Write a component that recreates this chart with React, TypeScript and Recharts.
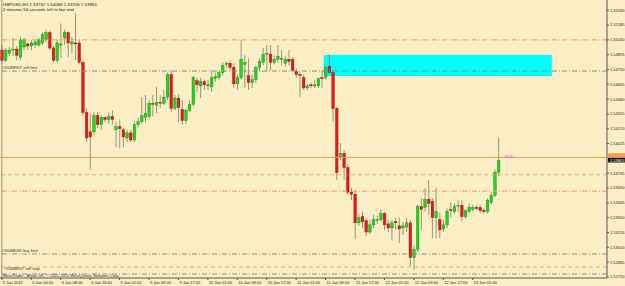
import React from 'react';
import { ComposedChart, Bar, XAxis, YAxis, ReferenceLine, ReferenceArea } from 'recharts';

// GBPUSD H1 candles, oldest first
const OPEN = [
  1.5494, 1.5484, 1.5491, 1.5494, 1.5495, 1.5487, 1.5497, 1.55, 1.5498, 1.5499,
  1.5499, 1.5501, 1.5504, 1.5511, 1.5496, 1.5484, 1.5499, 1.5506, 1.5511, 1.55,
  1.5501, 1.5501, 1.5482, 1.5433, 1.5414, 1.5414, 1.543, 1.5421, 1.5428, 1.5426,
  1.5429, 1.5416, 1.5419, 1.5416, 1.5408, 1.5413, 1.5406, 1.5421, 1.5424, 1.5428,
  1.5429, 1.5442, 1.544, 1.5443, 1.5442, 1.5448, 1.547, 1.5437, 1.5447, 1.5436,
  1.5425, 1.5435, 1.5441, 1.5464, 1.5459, 1.5463, 1.5459, 1.5458, 1.5466, 1.5467,
  1.5472, 1.548, 1.5481, 1.5477, 1.5461, 1.5467, 1.548, 1.5469, 1.5462, 1.5465,
  1.5477, 1.5482, 1.549, 1.549, 1.5482, 1.5485, 1.5485, 1.5481, 1.5485, 1.5485,
  1.5473, 1.547, 1.5467, 1.5457, 1.546, 1.5459, 1.5459, 1.5467, 1.5467, 1.5478,
  1.5472, 1.5437, 1.5389, 1.5393, 1.5379, 1.5355, 1.5353, 1.5325, 1.5331, 1.5327,
  1.5316, 1.5323, 1.5327, 1.5328, 1.5334, 1.5324, 1.532, 1.5326, 1.5322, 1.532,
  1.5321, 1.5325, 1.5291, 1.5299, 1.5341, 1.534, 1.5348, 1.5346, 1.533, 1.5328,
  1.5319, 1.5323, 1.5338, 1.5336, 1.5341, 1.5342, 1.5331, 1.5336, 1.5338, 1.534,
  1.534, 1.5337, 1.5336, 1.5345, 1.5352, 1.53742,
];
const HIGH = [
  1.5499, 1.5496, 1.5497, 1.5506, 1.5498, 1.5507, 1.5506, 1.5502, 1.5504, 1.5504,
  1.5506, 1.5511, 1.5514, 1.5513, 1.5498, 1.5504, 1.552, 1.5514, 1.5512, 1.5507,
  1.553, 1.5504, 1.5484, 1.5437, 1.5432, 1.5433, 1.5433, 1.543, 1.5429, 1.5433,
  1.5435, 1.5424, 1.5426, 1.5418, 1.5416, 1.5416, 1.5424, 1.5428, 1.5448, 1.545,
  1.5445, 1.545, 1.5458, 1.545, 1.5455, 1.5472, 1.5474, 1.545, 1.5451, 1.5445,
  1.5437, 1.5445, 1.5469, 1.5467, 1.5467, 1.5465, 1.5465, 1.5474, 1.5472, 1.5474,
  1.5482, 1.5483, 1.5484, 1.5481, 1.547, 1.5504, 1.5489, 1.5486, 1.547, 1.5479,
  1.5486, 1.5496, 1.5499, 1.5499, 1.5489, 1.5499, 1.5494, 1.5488, 1.5494, 1.5487,
  1.5476, 1.5472, 1.547, 1.5461, 1.5462, 1.5465, 1.5467, 1.5474, 1.5479, 1.549,
  1.5474, 1.5439, 1.5403, 1.5396, 1.5382, 1.5359, 1.5357, 1.5334, 1.5336, 1.533,
  1.5328, 1.5333, 1.5332, 1.5338, 1.5336, 1.5328, 1.5328, 1.533, 1.533, 1.5326,
  1.533, 1.5328, 1.5303, 1.5343, 1.5349, 1.5359, 1.5367, 1.5349, 1.5359, 1.5335,
  1.5328, 1.5339, 1.5345, 1.5344, 1.5347, 1.5347, 1.5338, 1.5344, 1.5343, 1.5342,
  1.5342, 1.5339, 1.5349, 1.5355, 1.5377, 1.54083,
];
const LOW = [
  1.5481, 1.5482, 1.5488, 1.5488, 1.5484, 1.5484, 1.5494, 1.5494, 1.5494, 1.5496,
  1.5497, 1.5499, 1.5502, 1.5494, 1.5482, 1.5482, 1.5486, 1.5499, 1.5487, 1.5491,
  1.5484, 1.548, 1.543, 1.5404, 1.5377, 1.5411, 1.5418, 1.5416, 1.5424, 1.5422,
  1.5421, 1.5399, 1.5398, 1.5399, 1.5404, 1.5404, 1.5404, 1.5418, 1.5422, 1.5423,
  1.5426, 1.5429, 1.5432, 1.5437, 1.544, 1.5445, 1.5433, 1.5435, 1.5423, 1.5421,
  1.5422, 1.5433, 1.5439, 1.5453, 1.5447, 1.5455, 1.5455, 1.5453, 1.5463, 1.5465,
  1.5469, 1.5477, 1.5474, 1.5457, 1.5455, 1.5465, 1.5457, 1.5455, 1.5457, 1.5462,
  1.5474, 1.5479, 1.5473, 1.5474, 1.548, 1.5482, 1.5479, 1.5478, 1.5479, 1.5473,
  1.5467, 1.5448, 1.5455, 1.5455, 1.5457, 1.5457, 1.5457, 1.5457, 1.5465, 1.547,
  1.5424, 1.5367, 1.5386, 1.5367, 1.5352, 1.5347, 1.5309, 1.5322, 1.532, 1.5312,
  1.5314, 1.532, 1.5324, 1.5326, 1.5318, 1.5316, 1.5308, 1.5318, 1.5305, 1.5313,
  1.5316, 1.5282, 1.5279, 1.5296, 1.5318, 1.5336, 1.5333, 1.531, 1.531, 1.531,
  1.5316, 1.532, 1.533, 1.5334, 1.5336, 1.5326, 1.5329, 1.5334, 1.5336, 1.5337,
  1.5335, 1.5334, 1.5334, 1.5343, 1.535, 1.53706,
];
const CLOSE = [
  1.5484, 1.5494, 1.5494, 1.5495, 1.5489, 1.5504, 1.5504, 1.5498, 1.5501, 1.5502,
  1.5504, 1.5509, 1.5511, 1.5496, 1.5484, 1.5501, 1.55, 1.5511, 1.5501, 1.5502,
  1.55, 1.5482, 1.5433, 1.5408, 1.5409, 1.543, 1.5421, 1.5428, 1.5426, 1.5429,
  1.5426, 1.5419, 1.5417, 1.5409, 1.5413, 1.5406, 1.5421, 1.5424, 1.543, 1.5432,
  1.5442, 1.5441, 1.5443, 1.5442, 1.5448, 1.547, 1.5437, 1.5447, 1.5438, 1.5425,
  1.5435, 1.5441, 1.5467, 1.546, 1.5463, 1.546, 1.546, 1.5467, 1.5468, 1.5472,
  1.5479, 1.5481, 1.5477, 1.5461, 1.5467, 1.5485, 1.5482, 1.5462, 1.5465, 1.5477,
  1.5483, 1.549, 1.5491, 1.5482, 1.5485, 1.5488, 1.5486, 1.5485, 1.5483, 1.5474,
  1.547, 1.5469, 1.5457, 1.5459, 1.5459, 1.546, 1.5466, 1.5466, 1.5477, 1.5472,
  1.5437, 1.5374, 1.5393, 1.5379, 1.5355, 1.5353, 1.5325, 1.533, 1.5326, 1.5316,
  1.5323, 1.5328, 1.5328, 1.5334, 1.5323, 1.532, 1.5325, 1.5325, 1.5319, 1.5322,
  1.5325, 1.5291, 1.5299, 1.5341, 1.5338, 1.5348, 1.5344, 1.533, 1.5336, 1.5318,
  1.5323, 1.5336, 1.5337, 1.5341, 1.5342, 1.5331, 1.5337, 1.534, 1.534, 1.5339,
  1.5337, 1.5336, 1.5347, 1.5352, 1.5374, 1.53863,
];

// chart shift: empty slots to the right of the last bar
const SLOT_COUNT = 165;

const TIME_TICKS = [0, 8, 16, 24, 32, 40, 48, 56, 64, 72, 80, 88, 96, 104, 112, 120, 128];
const TIME_LABELS = [
  '5 Jan 2012', '6 Jan 00:00', '6 Jan 08:00', '6 Jan 16:00', '9 Jan 01:00', '9 Jan 09:00',
  '9 Jan 17:00', '10 Jan 01:00', '10 Jan 09:00', '10 Jan 17:00', '11 Jan 01:00', '11 Jan 09:00',
  '11 Jan 17:00', '12 Jan 01:00', '12 Jan 09:00', '12 Jan 17:00', '13 Jan 01:00',
];
// 1.53880 sits under the bid box, so it is left out
const PRICE_TICKS = [
  1.5533, 1.55185, 1.5504, 1.54895, 1.5475, 1.54605, 1.5446, 1.54315, 1.5417, 1.54025,
  1.53735, 1.5359, 1.53445, 1.533, 1.53155, 1.5301, 1.52865, 1.5272,
];

const BID = 1.53863;
const ORANGE_LINE = 1.5389;

const rows = Array.from({ length: SLOT_COUNT }, (_, i) =>
  i < OPEN.length
    ? { i, open: OPEN[i], high: HIGH[i], low: LOW[i], close: CLOSE[i], range: [LOW[i], HIGH[i]] }
    : { i }
);

const FONT = 'Liberation Sans, Arial, sans-serif';
const ORANGE = '#f39a5c';
const GREY = '#8e8c74';

const Candle = (props: any) => {
  const { x, y, width, height, payload } = props;
  if (!payload || payload.high == null) return null;
  const { open, close, high, low } = payload;
  const top = Math.min(y, y + height);
  const h = Math.abs(height);
  const span = high - low || 1e-9;
  const py = (p: number) => top + ((high - p) / span) * h;
  const cx = x + width / 2;
  const up = close >= open;
  const bTop = py(Math.max(open, close));
  const bBot = py(Math.min(open, close));
  return (
    <g>
      <line x1={cx} x2={cx} y1={top} y2={top + h} stroke="#7d7d62" strokeWidth={0.8} />
      <rect
        x={cx - 1.3}
        y={bTop}
        width={2.6}
        height={Math.max(bBot - bTop, 0.9)}
        fill={up ? '#22d322' : '#e21b1b'}
        stroke={up ? '#128a12' : '#9c1010'}
        strokeWidth={0.4}
      />
    </g>
  );
};

const TimeTick = (props: any) => {
  const { x, y, payload } = props;
  const k = TIME_TICKS.indexOf(payload.value);
  return (
    <text x={x + 1} y={y + 3.6} fontSize={4} fontFamily={FONT} fill="#222">
      {k >= 0 ? TIME_LABELS[k] : ''}
    </text>
  );
};

const priceBox = (fill: string, text: string, dy: number) => (props: any) => {
  const vb = props.viewBox || {};
  const x0 = vb.x + vb.width;
  return (
    <g>
      <rect x={x0 + 1} y={vb.y + dy} width={20} height={4.6} fill={fill} />
      {text ? (
        <text x={x0 + 3} y={vb.y + dy + 3.8} fontSize={4} fontFamily={FONT} fill="#fff">
          {text}
        </text>
      ) : null}
    </g>
  );
};

const lineLabel = (value: string, offset = 2) => ({
  value,
  position: 'insideBottomLeft' as const,
  offset,
  fontSize: 4,
  fontFamily: FONT,
  fill: '#333',
});

export default function App() {
  return (
    <div
      style={{
        position: 'absolute',
        left: 0,
        top: 0,
        width: 625,
        height: 286,
        background: '#fcefc5',
        overflow: 'hidden',
      }}
    >
      <ComposedChart
        width={625}
        height={286}
        data={rows}
        margin={{ top: 0, right: 0, bottom: 0, left: 0 }}
        barCategoryGap={0}
      >
        <XAxis
          dataKey="i"
          type="category"
          ticks={TIME_TICKS}
          interval={0}
          height={8}
          tickSize={2}
          tickMargin={0}
          axisLine={{ stroke: '#555' }}
          tickLine={{ stroke: '#555' }}
          tick={<TimeTick />}
        />
        <YAxis
          orientation="right"
          type="number"
          domain={[1.5271, 1.5543]}
          allowDataOverflow
          ticks={PRICE_TICKS}
          interval={0}
          width={18}
          tickSize={2}
          tickMargin={1}
          axisLine={{ stroke: '#555' }}
          tickLine={{ stroke: '#555' }}
          tick={{ fontSize: 4, fontFamily: FONT, fill: '#222', textAnchor: 'start' }}
          tickFormatter={(v: number) => v.toFixed(5)}
        />
        <ReferenceArea x1={88} x2={149} y1={1.54686} y2={1.54891} fill="#00ffff" fillOpacity={1} stroke="none" />
        <ReferenceLine y={1.5504} stroke={ORANGE} strokeDasharray="5 2 1 2" />
        <ReferenceLine y={1.54735} stroke={GREY} strokeDasharray="5 2 1 2" label={lineLabel('#33488907 sell limit')} />
        <ReferenceLine y={1.5372} stroke={ORANGE} strokeOpacity={0.8} strokeDasharray="4 3" />
        <ReferenceLine y={1.5356} stroke={ORANGE} strokeDasharray="5 2 1 2" />
        <ReferenceLine y={1.52945} stroke={GREY} strokeDasharray="5 2 1 2" label={lineLabel('#33488085 buy limit')} />
        <ReferenceLine y={1.52818} stroke={ORANGE} strokeOpacity={0.8} strokeDasharray="4 3" />
        <ReferenceLine y={1.52749} stroke={GREY} strokeDasharray="5 2 1 2" label={lineLabel('#33488907 sell stop', 4)} />
        <ReferenceLine x={0} stroke="#6e6e5a" strokeWidth={0.7} />
        <Bar dataKey="range" shape={<Candle />} isAnimationActive={false} />
        <ReferenceLine y={ORANGE_LINE} stroke={ORANGE} strokeWidth={1} label={priceBox(ORANGE, '', -4.2)} />
        <ReferenceLine y={BID} stroke="none" label={priceBox('#111', BID.toFixed(5), -2.3)} />
      </ComposedChart>
      <svg
        width={625}
        height={286}
        style={{ position: 'absolute', left: 0, top: 0, pointerEvents: 'none' }}
        fontFamily={FONT}
      >
        <text x={3} y={6} fontSize={4.4} fill="#222">
          GBPUSD,H1  1.53742 1.54083 1.53706 1.53863
        </text>
        <text x={3} y={11} fontSize={4.4} fill="#222">
          2 minutes 54 seconds left to bar end
        </text>
        <text x={3} y={276.5} fontSize={4} fill="#333">
          MetaTrader - Alpari UK, © 2001-2011 MetaQuotes Software Corp.
        </text>
        <text x={504} y={158} fontSize={4} fill="#ff00cc">
          &lt;3.5+
        </text>
      </svg>
    </div>
  );
}
